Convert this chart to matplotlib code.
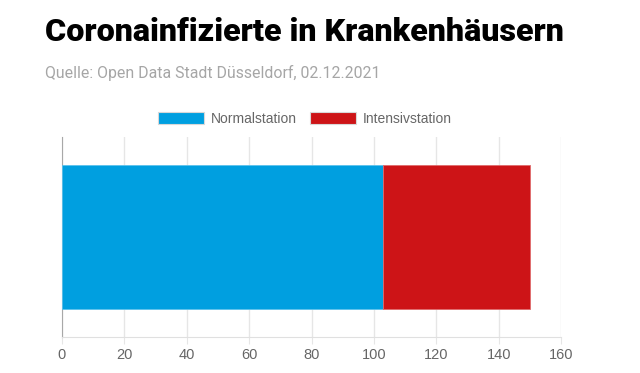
import matplotlib
matplotlib.use('Agg')
import matplotlib.pyplot as plt
from matplotlib.patches import Patch

# data
categories = ['Krankenhaus']
series_names = ['Normalstation', 'Intensivstation']
normal = [103]
intensiv = [47]
x_ticks = [0, 20, 40, 60, 80, 100, 120, 140, 160]

blue = '#009fe0'
red = '#cd1417'
grey = '#666666'

fig = plt.figure(figsize=(6.4, 3.73), dpi=100)
ax = fig.add_axes([62/640, 1 - 337/373, 499/640, 200/373])

ypos = range(len(categories))
ax.barh(ypos, normal, height=0.72, color=blue, edgecolor='#5cc2ec', linewidth=0.6, zorder=3)
ax.barh(ypos, intensiv, left=normal, height=0.72, color=red, edgecolor='#e06a6c', linewidth=0.6, zorder=3)

ax.set_xlim(0, 160)
ax.set_ylim(-0.5, 0.5)
ax.set_xticks(x_ticks)
ax.set_yticks([])
ax.grid(axis='x', color='#e6e6e6', linewidth=1, zorder=0)
ax.tick_params(axis='x', length=5, color='#e6e6e6', labelcolor=grey, labelsize=10.5, pad=3)
for lab in ax.get_xticklabels():
    lab.set_family('Liberation Sans')

for s in ['top', 'right']:
    ax.spines[s].set_visible(False)
ax.spines['bottom'].set_color('#e0e0e0')
ax.spines['left'].set_color('#a8a8a8')

handles = [Patch(facecolor=blue, edgecolor='#d8d8d8', linewidth=0.8),
           Patch(facecolor=red, edgecolor='#d8d8d8', linewidth=0.8)]
leg = fig.legend(handles, series_names, loc='center', bbox_to_anchor=(305/640, 1 - 119/373),
                 ncol=2, frameon=False, handlelength=3.3, handleheight=1.0,
                 handletextpad=0.5, columnspacing=0.9,
                 prop={'family': 'Liberation Sans', 'size': 10})
for t in leg.get_texts():
    t.set_color(grey)

fig.text(45/640, 1 - 41/373, 'Coronainfizierte in Krankenhäusern', fontsize=23.2,
         fontweight='black', family='Roboto', color='black', ha='left', va='baseline')
fig.text(45/640, 1 - 78/373, 'Quelle: Open Data Stadt Düsseldorf, 02.12.2021', fontsize=11.4,
         family='Roboto', color='#a6a6a6', ha='left', va='baseline')

fig.savefig('out.png', dpi=100)
